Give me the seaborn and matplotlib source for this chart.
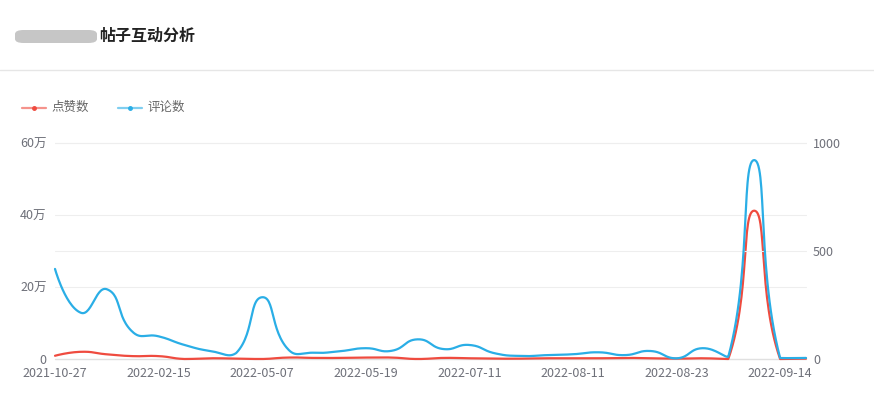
import numpy as np
import pandas as pd
import seaborn as sns
import matplotlib
matplotlib.use("Agg")
import matplotlib.pyplot as plt
from matplotlib.lines import Line2D
from matplotlib.patches import FancyBboxPatch

# ---- data ----
tick_labels = ["2021-10-27", "2022-02-15", "2022-05-07", "2022-05-19",
               "2022-07-11", "2022-08-11", "2022-08-23", "2022-09-14"]
tick_every = 4
likes = [9000, 20000, 13000, 8000, 8000, 0, 2000, 1000, 0, 4000,
         3000, 3000, 4000, 4000, 0, 3000, 2000, 1000, 1000, 2000,
         2000, 2000, 3000, 2000, 1000, 2000, 0, 412000, 0, 1000]
comments = [417, 214, 323, 125, 105, 65, 37, 28, 286, 45,
            29, 36, 50, 38, 91, 46, 65, 26, 14, 18,
            22, 31, 18, 37, 3, 50, 11, 921, 5, 5]
series_names = ["点赞数", "评论数"]
left_ticks = [0, 200000, 400000, 600000]
left_labels = ["0", "20万", "40万", "60万"]
right_ticks = [0, 500, 1000]
right_labels = ["0", "500", "1000"]

RED = "#ef4b3f"
BLUE = "#2aaee6"
GRID = "#eeeeee"
TXT = "#6e7079"

W, H = 874, 405
ax_l, ax_r, ax_t, ax_b = 55, 806, 143, 359
step_px = (ax_r - ax_l) / (len(likes) - 1)
h_px = ax_b - ax_t


def smooth_curve(vals, vmax, smooth=0.5, n=30):
    """ECharts-style smoothed bezier (global bounding-box constraint), pixel space."""
    N = len(vals)
    px = np.arange(N) * step_px
    py = np.asarray(vals, float) / vmax * h_px
    pts = np.stack([px, py], 1)
    lo, hi = pts.min(0), pts.max(0)
    cin = pts.copy()
    cout = pts.copy()
    for i in range(1, N - 1):
        p, prev, nxt = pts[i], pts[i - 1], pts[i + 1]
        v = nxt - prev
        l0 = np.hypot(*(p - prev))
        l1 = np.hypot(*(nxt - p))
        r = l1 / (l0 + l1) if (l0 + l1) > 0 else 0.5
        cin[i] = np.clip(p - v * smooth * (1 - r), lo, hi)
        cout[i] = np.clip(p + v * smooth * r, lo, hi)
    t = np.linspace(0, 1, n)[:, None]
    out = []
    for i in range(N - 1):
        a, b, c, d = pts[i], cout[i], cin[i + 1], pts[i + 1]
        seg = ((1 - t) ** 3) * a + 3 * ((1 - t) ** 2) * t * b + 3 * (1 - t) * t ** 2 * c + t ** 3 * d
        out.append(seg if i == 0 else seg[1:])
    out = np.concatenate(out)
    return out[:, 0] / step_px, out[:, 1] / h_px * vmax


sns.set_theme(style="white")
plt.rcParams["font.family"] = ["Noto Sans CJK SC", "DejaVu Sans"]

fig = plt.figure(figsize=(W / 100, H / 100), dpi=100)
ax = fig.add_axes([ax_l / W, 1 - ax_b / H, (ax_r - ax_l) / W, h_px / H])
ax2 = ax.twinx()

# grid lines
for yv in left_ticks[1:]:
    ax.axhline(yv, color=GRID, lw=0.8, zorder=0)
for yv in right_ticks[1:]:
    ax2.axhline(yv, color=GRID, lw=0.8, zorder=0)
ax.axhline(0, color="#e0e0e0", lw=1.0, zorder=0)

xr, yr = smooth_curve(likes, left_ticks[-1])
xb, yb = smooth_curve(comments, right_ticks[-1])
sns.lineplot(x=xr, y=yr, ax=ax, color=RED, lw=1.6, sort=False, estimator=None)
sns.lineplot(x=xb, y=yb, ax=ax2, color=BLUE, lw=1.6, sort=False, estimator=None)
for a in (ax, ax2):
    for ln in a.lines:
        ln.set_clip_on(False)

ax.set_xlim(0, len(likes) - 1)
ax.set_ylim(0, left_ticks[-1])
ax2.set_ylim(0, right_ticks[-1])
ax.set_yticks(left_ticks)
ax.set_yticklabels(left_labels)
ax2.set_yticks(right_ticks)
ax2.set_yticklabels(right_labels)
pos = list(range(0, len(likes), tick_every))[:len(tick_labels)]
ax.set_xticks(pos)
ax.set_xticklabels(tick_labels)
for a in (ax, ax2):
    for s in a.spines.values():
        s.set_visible(False)
    a.tick_params(length=0, labelsize=9, colors=TXT)
    a.grid(False)
    a.set_xlabel("")
    a.set_ylabel("")
ax.tick_params(axis="y", pad=6)
ax2.tick_params(axis="y", pad=5)
ax.tick_params(axis="x", pad=6)

# header
fig.add_artist(FancyBboxPatch((15 / W, 1 - 43 / H), 82 / W, 13 / H,
                              boxstyle="round,pad=0,rounding_size=0.01",
                              transform=fig.transFigure, fc="#c6c6c6", ec="none"))
fig.text(99 / W, 1 - 36 / H, "帖子互动分析", fontsize=11.5, fontweight="bold",
         color="#222222", va="center", ha="left")
fig.add_artist(Line2D([0, 1], [1 - 70 / H, 1 - 70 / H], transform=fig.transFigure,
                      color="#e6e6e6", lw=1))

# legend
for (x0, col, name) in [(22, RED, series_names[0]), (118, BLUE, series_names[1])]:
    yy = 1 - 107.5 / H
    fig.add_artist(Line2D([x0 / W, (x0 + 24) / W], [yy, yy], transform=fig.transFigure,
                          color=col, lw=1.6, alpha=0.6))
    fig.add_artist(Line2D([(x0 + 12) / W], [yy], transform=fig.transFigure,
                          color=col, marker="o", ms=2.5, lw=0))
    fig.text((x0 + 29) / W, yy, name, fontsize=9, color="#666666", va="center", ha="left")

fig.savefig("out.png", dpi=100, facecolor="white")
